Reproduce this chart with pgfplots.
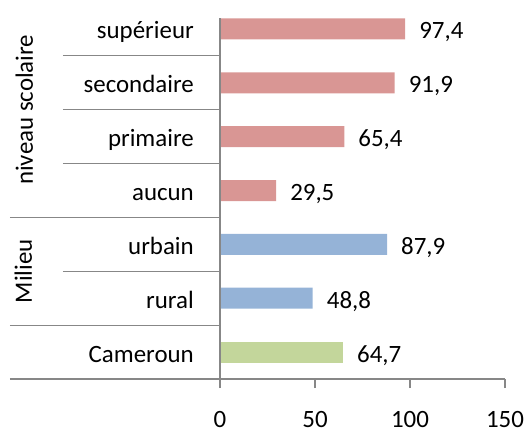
\documentclass[border=0pt]{standalone}
\usepackage{pgfplots}
\pgfplotsset{compat=1.18}
\usepackage{fontspec}
\setmainfont{Carlito}
\definecolor{cpink}{HTML}{D99694}
\definecolor{cblue}{HTML}{95B3D7}
\definecolor{cgreen}{HTML}{C3D69B}
\definecolor{cgrid}{HTML}{878787}
\begin{document}
\fontsize{25}{30}\selectfont
\begin{tikzpicture}[x=1bp,y=1bp]
\useasboundingbox (0,0) rectangle (525,431);
\begin{axis}[
  at={(220bp,52bp)}, anchor=south west,
  scale only axis, width=285bp, height=377bp,
  xbar, bar width=21bp, bar shift=0pt,
  xmin=0, xmax=150, ymin=-0.5, ymax=6.5,
  xtick={0,50,100,150},
  ytick={0,...,6},
  yticklabels={Cameroun,rural,urbain,aucun,primaire,secondaire,supérieur},
  axis lines*=left,
  x axis line style={cgrid, line width=1.2bp},
  y axis line style={draw=none},
  tick align=outside,
  major tick length=9bp,
  xtick style={cgrid, line width=1.2bp},
  ytick style={draw=none},
  xticklabel style={/pgf/number format/assume math mode=true, anchor=base, inner sep=0pt, yshift=-39bp, text=black},
  yticklabel style={anchor=base east, inner sep=0pt, xshift=-17bp, yshift=-10bp, text=black},
  nodes near coords={\pgfmathprintnumber[fixed,fixed zerofill,precision=1,use comma,assume math mode=true]{\pgfplotspointmeta}},
  nodes near coords style={anchor=base west, inner sep=0pt, xshift=14bp, yshift=-10bp, text=black},
  point meta=x,
  clip=false,
  every axis plot/.append style={draw=none},
]
\addplot[fill=cgreen] coordinates {(64.7,0)};
\addplot[fill=cblue] coordinates {(48.8,1) (87.9,2)};
\addplot[fill=cpink] coordinates {(29.5,3) (65.4,4) (91.9,5) (97.4,6)};
\draw[cgrid, line width=1.2bp] (axis cs:0,6.2) -- (axis cs:0,-0.5);
\draw[cgrid, line width=1.2bp] ([xshift=-210bp]axis cs:0,-0.5) -- (axis cs:0,-0.5);
\draw[cgrid, line width=1.2bp] ([xshift=-210bp]axis cs:0,0.5) -- (axis cs:0,0.5);
\draw[cgrid, line width=1.2bp] ([xshift=-210bp]axis cs:0,2.5) -- (axis cs:0,2.5);
\draw[cgrid, line width=1.2bp] ([xshift=-157bp]axis cs:0,1.5) -- (axis cs:0,1.5);
\draw[cgrid, line width=1.2bp] ([xshift=-157bp]axis cs:0,3.5) -- (axis cs:0,3.5);
\draw[cgrid, line width=1.2bp] ([xshift=-157bp]axis cs:0,4.5) -- (axis cs:0,4.5);
\draw[cgrid, line width=1.2bp] ([xshift=-157bp]axis cs:0,5.5) -- (axis cs:0,5.5);
\node[rotate=90, anchor=base, inner sep=0pt, text=black] at ([xshift=-187bp]axis cs:0,4.5) {niveau scolaire};
\node[rotate=90, anchor=base, inner sep=0pt, text=black] at ([xshift=-188bp]axis cs:0,1.5) {Milieu};
\end{axis}
\end{tikzpicture}
\end{document}
